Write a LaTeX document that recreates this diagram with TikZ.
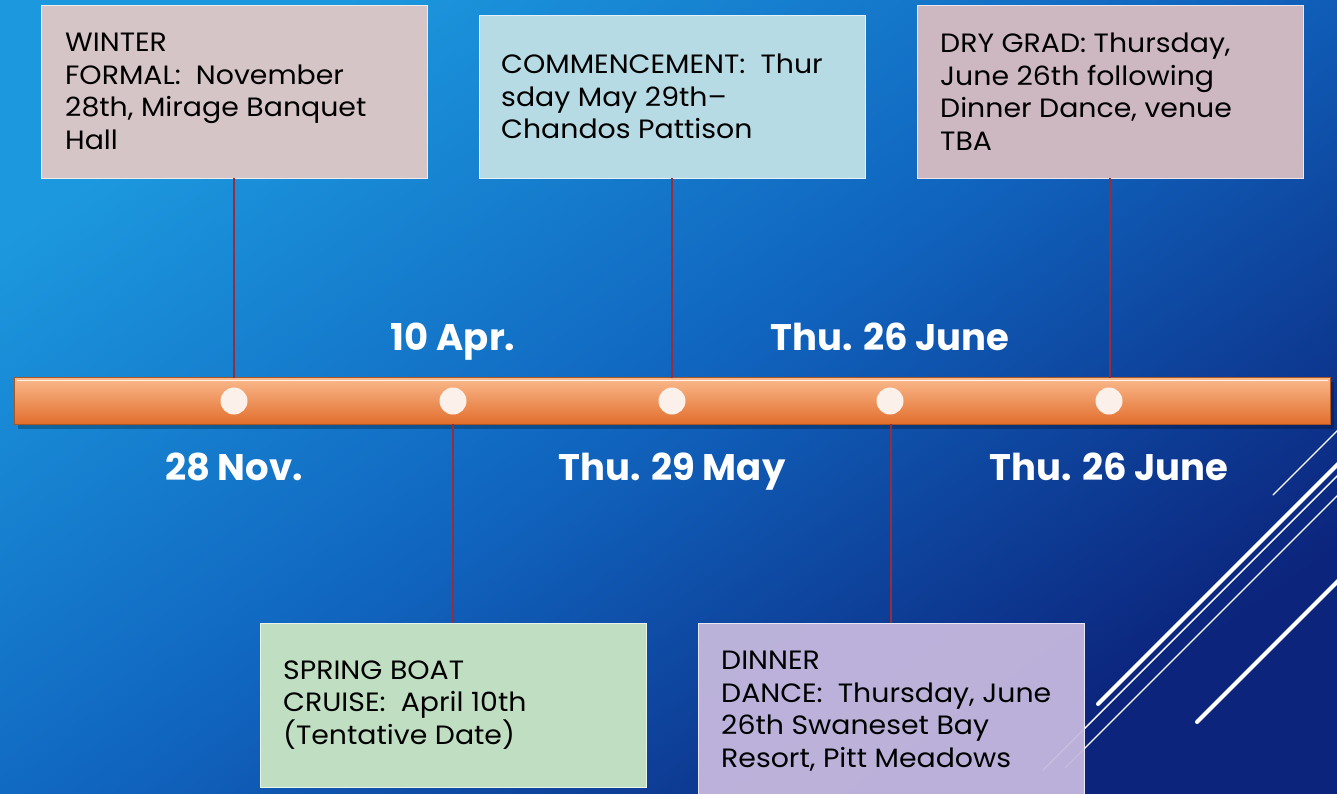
\documentclass[tikz,border=0pt]{standalone}
\usepackage{fontspec}
\setmainfont{Poppins}
\newfontfamily\boxfont[FakeStretch=1.07,Ligatures=TeX]{Poppins}
\usetikzlibrary{calc}
\definecolor{bgA}{RGB}{28,152,222}
\definecolor{bgB}{RGB}{16,100,190}
\definecolor{bgC}{RGB}{12,36,124}
\definecolor{cWinter}{RGB}{214,197,198}
\definecolor{cComm}{RGB}{183,219,228}
\definecolor{cDry}{RGB}{205,184,194}
\definecolor{cSpring}{RGB}{192,223,194}
\definecolor{cDinner}{RGB}{197,184,222}
\definecolor{barTop}{RGB}{250,185,140}
\definecolor{barBot}{RGB}{226,110,45}
\definecolor{barEdge}{RGB}{170,85,35}
\definecolor{dotC}{RGB}{251,240,234}
\definecolor{conn}{RGB}{150,45,58}
\tikzset{
  x=1pt,y=-1pt,
  evbox/.style={rectangle, draw=white!65!#1, line width=1pt, fill=#1, minimum width=386pt, inner sep=0pt, outer sep=0pt},
  evtext/.style={anchor=west, align=left, inner sep=0pt, font=\boxfont\fontsize{26.5}{32.5}\selectfont, text=black},
  datelbl/.style={font=\fontsize{37}{40}\selectfont\bfseries, text=white, inner sep=0pt},
  dot/.style={circle, fill=dotC, minimum size=27pt, inner sep=0pt},
  connline/.style={draw=conn, line width=1.4pt},
  deco/.style={draw=white, line cap=round}
}
\begin{document}
\begin{tikzpicture}
\useasboundingbox (0,0) rectangle (1337,793);
\shade[top color=bgA, bottom color=bgC, middle color=bgB, shading angle=35] (0,0) rectangle (1337,793);
% decorative lines
\draw[deco, line width=1.2pt] (1273,495) -- (1340,428);
\draw[deco, line width=4pt] (1098,704) -- (1340,462);
\draw[deco, line width=1.4pt] (1043,770) -- (1340,473);
\draw[deco, line width=1.2pt] (1065,768) -- (1340,493);
\draw[deco, line width=4pt] (1197,722) -- (1340,579);
% boxes
\node[evbox=cWinter, minimum height=173pt] (b1) at (234,91.5) {};
\node[evtext] (t1) at ([xshift=24pt]b1.west) {WINTER\\FORMAL:\ \ November\\28th, Mirage Banquet\\Hall};
\node[evbox=cComm, minimum height=163pt] (b2) at (672,96.5) {};
\node[evtext] (t2) at ([xshift=22pt]b2.west) {COMMENCEMENT:\ \ Thur\\sday May 29th–\\Chandos Pattison};
\node[evbox=cDry, minimum height=173pt] (b3) at (1110,91.5) {};
\node[evtext] (t3) at ([xshift=23pt]b3.west) {DRY GRAD: Thursday,\\June 26th following\\Dinner Dance, venue\\TBA};
\node[evbox=cSpring, minimum height=164pt] (b4) at (453,705) {};
\node[evtext] (t4) at ([xshift=23pt]b4.west) {SPRING BOAT\\CRUISE:\ \ April 10th\\(Tentative Date)};
\node[evbox=cDinner, minimum height=176pt, fill opacity=0.95] (b5) at (891,711) {};
\node[evtext] (t5) at ([xshift=23pt]b5.west) {DINNER\\DANCE:\ \ Thursday, June\\26th Swaneset Bay\\Resort, Pitt Meadows};
% bar
\node[rectangle, minimum width=1315pt, minimum height=46pt, inner sep=0pt] (bar) at (672.5,401) {};
\fill[black, opacity=0.25] ([xshift=3pt,yshift=-4pt]bar.north west) rectangle ([xshift=4pt,yshift=-5pt]bar.south east);
\shade[top color=barTop, bottom color=barBot, draw=barEdge, line width=1.2pt] (bar.north west) rectangle (bar.south east);
\draw[white!85!barTop, line width=1.5pt] ([xshift=2pt,yshift=-2.5pt]bar.north west) -- ([xshift=-2pt,yshift=-2.5pt]bar.north east);
% connectors
\draw[connline] (b1.south) -- (b1.south |- bar.north);
\draw[connline] (b2.south) -- (b2.south |- bar.north);
\draw[connline] (b3.south) -- (b3.south |- bar.north);
\draw[connline] (b4.north) -- (b4.north |- bar.south);
\draw[connline] (b5.north) -- (b5.north |- bar.south);
% dots
\node[dot] (d1) at (234,401) {};
\node[dot] (d2) at (453,401) {};
\node[dot] (d3) at (672,401) {};
\node[dot] (d4) at (890,401) {};
\node[dot] (d5) at (1109,401) {};
% dates
\node[datelbl, anchor=base] (l2) at (453,350) {10 Apr.};
\node[datelbl, anchor=base] (l4) at (890,350) {Thu. 26 June};
\node[datelbl, anchor=base] (l1) at (234,480) {28 Nov.};
\node[datelbl, anchor=base] (l3) at (672,480) {Thu. 29 May};
\node[datelbl, anchor=base] (l5) at (1109,480) {Thu. 26 June};
\end{tikzpicture}
\end{document}
